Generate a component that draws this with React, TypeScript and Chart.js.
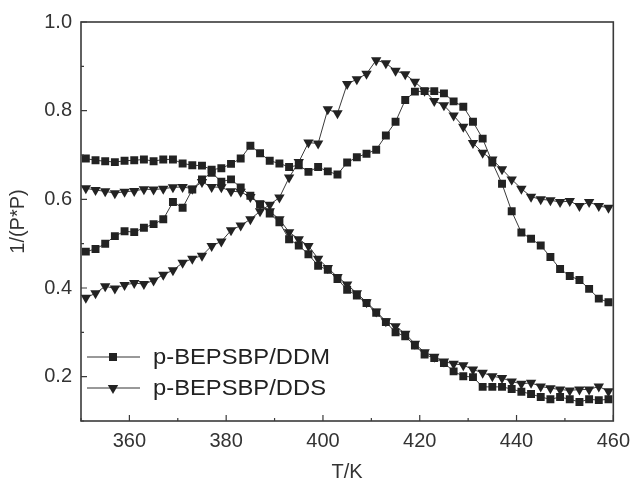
import React, { useEffect, useRef } from 'react';
import { Chart, registerables } from 'chart.js';

Chart.register(...registerables);

const temperatures = [
  351, 353, 355, 357, 359, 361, 363, 365, 367, 369,
  371, 373, 375, 377, 379, 381, 383, 385, 387, 389,
  391, 393, 395, 397, 399, 401, 403, 405, 407, 409,
  411, 413, 415, 417, 419, 421, 423, 425, 427, 429,
  431, 433, 435, 437, 439, 441, 443, 445, 447, 449,
  451, 453, 455, 457, 459,
];

// p-BEPSBP/DDM, upper branch (squares)
const ddmUpper = [
  0.692, 0.688, 0.686, 0.684, 0.687, 0.688, 0.690, 0.686, 0.690, 0.690,
  0.681, 0.677, 0.676, 0.667, 0.670, 0.680, 0.692, 0.721, 0.704, 0.687,
  0.681, 0.673, 0.677, 0.662, 0.673, 0.663, 0.656, 0.683, 0.695, 0.703,
  0.712, 0.744, 0.775, 0.824, 0.843, 0.844, 0.844, 0.839, 0.821, 0.809,
  0.775, 0.737, 0.683, 0.635, 0.573, 0.525, 0.511, 0.496, 0.470, 0.443,
  0.427, 0.418, 0.398, 0.376, 0.368,
];

// p-BEPSBP/DDM, lower branch (squares)
const ddmLower = [
  0.482, 0.488, 0.500, 0.517, 0.528, 0.526, 0.536, 0.544, 0.555, 0.594,
  0.581, 0.622, 0.645, 0.660, 0.640, 0.645, 0.627, 0.608, 0.589, 0.568,
  0.548, 0.510, 0.496, 0.476, 0.450, 0.441, 0.420, 0.396, 0.383, 0.366,
  0.344, 0.323, 0.300, 0.291, 0.270, 0.250, 0.242, 0.231, 0.212, 0.201,
  0.199, 0.177, 0.177, 0.177, 0.172, 0.166, 0.161, 0.154, 0.149, 0.154,
  0.149, 0.143, 0.149, 0.147, 0.149,
];

// p-BEPSBP/DDS, branch starting high (triangles)
const ddsUpper = [
  0.625, 0.621, 0.618, 0.614, 0.617, 0.619, 0.623, 0.622, 0.624, 0.627,
  0.628, 0.624, 0.639, 0.628, 0.627, 0.618, 0.617, 0.605, 0.590, 0.573,
  0.555, 0.526, 0.510, 0.495, 0.466, 0.445, 0.425, 0.408, 0.388, 0.368,
  0.347, 0.325, 0.314, 0.297, 0.274, 0.255, 0.245, 0.234, 0.229, 0.226,
  0.216, 0.209, 0.201, 0.197, 0.189, 0.184, 0.186, 0.178, 0.174, 0.171,
  0.169, 0.171, 0.171, 0.178, 0.167,
];

// p-BEPSBP/DDS, branch starting low (triangles)
const ddsLower = [
  0.378, 0.388, 0.404, 0.399, 0.407, 0.411, 0.409, 0.417, 0.430, 0.440,
  0.457, 0.466, 0.473, 0.495, 0.505, 0.530, 0.541, 0.555, 0.573, 0.588,
  0.604, 0.649, 0.684, 0.728, 0.726, 0.803, 0.794, 0.860, 0.871, 0.883,
  0.914, 0.907, 0.890, 0.882, 0.865, 0.845, 0.822, 0.812, 0.789, 0.764,
  0.727, 0.705, 0.690, 0.668, 0.645, 0.624, 0.606, 0.600, 0.598, 0.594,
  0.596, 0.585, 0.594, 0.585, 0.581,
];

const xMajorTicks = [360, 380, 400, 420, 440, 460];
const xMinorTicks = [350, 370, 390, 410, 430, 450];
const yMajorTicks = [0.2, 0.4, 0.6, 0.8, 1.0];
const yMinorTicks = [0.1, 0.3, 0.5, 0.7, 0.9];
const legendLabels = ['p-BEPSBP/DDM', 'p-BEPSBP/DDS'];
const xTitle = 'T/K';
const yTitle = '1/(P*P)';

const FONT = '"Liberation Sans", Arial, Helvetica, sans-serif';
const INK = '#222222';

const toPoints = (vals: number[]) => temperatures.map((t, i) => ({ x: t, y: vals[i] }));

const decorPlugin = {
  id: 'decor',
  afterDraw(chart: any) {
    const { ctx, chartArea: a, scales } = chart;
    const xs = scales.x;
    const ys = scales.y;
    ctx.save();
    // frame
    ctx.strokeStyle = '#3a3a3a';
    ctx.lineWidth = 1.6;
    ctx.strokeRect(a.left, a.top, a.right - a.left, a.bottom - a.top);
    // inward ticks
    ctx.lineWidth = 1.2;
    ctx.beginPath();
    xMajorTicks.forEach((v) => {
      const p = xs.getPixelForValue(v);
      ctx.moveTo(p, a.bottom);
      ctx.lineTo(p, a.bottom - 6);
    });
    xMinorTicks.forEach((v) => {
      const p = xs.getPixelForValue(v);
      ctx.moveTo(p, a.bottom);
      ctx.lineTo(p, a.bottom - 3);
    });
    yMajorTicks.forEach((v) => {
      const p = ys.getPixelForValue(v);
      ctx.moveTo(a.left, p);
      ctx.lineTo(a.left + 6, p);
    });
    yMinorTicks.forEach((v) => {
      const p = ys.getPixelForValue(v);
      ctx.moveTo(a.left, p);
      ctx.lineTo(a.left + 3, p);
    });
    ctx.stroke();

    // axis titles
    ctx.fillStyle = '#333';
    ctx.font = `20px ${FONT}`;
    ctx.textAlign = 'center';
    ctx.textBaseline = 'middle';
    ctx.fillText(xTitle, (a.left + a.right) / 2, 472);
    ctx.save();
    ctx.translate(18, (a.top + a.bottom) / 2);
    ctx.rotate(-Math.PI / 2);
    ctx.fillText(yTitle, 0, 0);
    ctx.restore();

    // legend
    const rows = [357, 388];
    ctx.font = `22px ${FONT}`;
    ctx.textAlign = 'left';
    rows.forEach((ry, i) => {
      ctx.strokeStyle = '#333';
      ctx.lineWidth = 1;
      ctx.beginPath();
      ctx.moveTo(87, ry);
      ctx.lineTo(140, ry);
      ctx.stroke();
      ctx.fillStyle = INK;
      if (i === 0) {
        ctx.fillRect(113 - 4, ry - 4, 8, 8);
      } else {
        const r = 6;
        ctx.beginPath();
        ctx.moveTo(113, ry + r);
        ctx.lineTo(113 - r * 0.866, ry - r / 2);
        ctx.lineTo(113 + r * 0.866, ry - r / 2);
        ctx.closePath();
        ctx.fill();
      }
      ctx.save();
      ctx.translate(153, ry + 1);
      ctx.scale(1.08, 1);
      ctx.fillStyle = INK;
      ctx.fillText(legendLabels[i], 0, 0);
      ctx.restore();
    });
    ctx.restore();
  },
};

function makeDataset(label: string, vals: number[], style: 'rect' | 'triangle') {
  return {
    label,
    data: toPoints(vals),
    borderColor: '#3a3a3a',
    borderWidth: 1,
    pointStyle: style,
    rotation: style === 'triangle' ? 180 : 0,
    pointRadius: style === 'triangle' ? 6 : 5.6,
    pointBackgroundColor: INK,
    pointBorderColor: INK,
    pointBorderWidth: 0,
    showLine: true,
    tension: 0,
    fill: false,
  };
}

export default function App() {
  const ref = useRef<HTMLCanvasElement | null>(null);

  useEffect(() => {
    if (!ref.current) return;
    const chart = new Chart(ref.current, {
      type: 'line',
      data: {
        datasets: [
          makeDataset(legendLabels[0], ddmUpper, 'rect'),
          makeDataset(legendLabels[0], ddmLower, 'rect'),
          makeDataset(legendLabels[1], ddsUpper, 'triangle'),
          makeDataset(legendLabels[1], ddsLower, 'triangle'),
        ] as any,
      },
      options: {
        animation: false,
        responsive: false,
        devicePixelRatio: 1,
        layout: { padding: { left: 0, right: 21, top: 22, bottom: 0 } },
        plugins: { legend: { display: false }, tooltip: { enabled: false } },
        scales: {
          x: {
            type: 'linear',
            min: 350,
            max: 460,
            afterBuildTicks: (s: any) => {
              s.ticks = xMajorTicks.map((v) => ({ value: v }));
            },
            afterFit: (s: any) => {
              s.height = 64;
            },
            grid: { display: false, drawTicks: false },
            border: { display: false },
            ticks: {
              padding: 8,
              color: '#333',
              font: { family: FONT, size: 20 },
              maxRotation: 0,
              callback: (v: any) => String(v),
            },
          },
          y: {
            type: 'linear',
            min: 0.1,
            max: 1.0,
            afterBuildTicks: (s: any) => {
              s.ticks = yMajorTicks.map((v) => ({ value: v }));
            },
            afterFit: (s: any) => {
              s.width = 81;
            },
            grid: { display: false, drawTicks: false },
            border: { display: false },
            ticks: {
              padding: 9,
              color: '#333',
              font: { family: FONT, size: 20 },
              callback: (v: any) => Number(v).toFixed(1),
            },
          },
        },
      },
      plugins: [decorPlugin],
    });
    return () => chart.destroy();
  }, []);

  return (
    <div style={{ position: 'absolute', left: 0, top: 0, width: 638, height: 485, background: '#fff' }}>
      <canvas ref={ref} width={638} height={485} />
    </div>
  );
}
